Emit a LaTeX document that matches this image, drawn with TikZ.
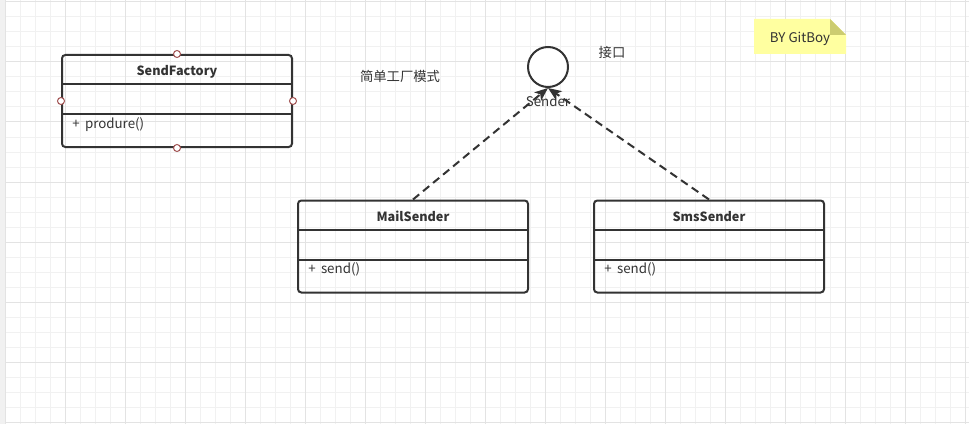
\documentclass[tikz,border=0pt]{standalone}
\usepackage{fontspec}
\setmainfont{Noto Sans CJK SC}
\usepackage{tikz}
\usetikzlibrary{calc}
\usetikzlibrary{arrows.meta,shapes}
\usetikzlibrary{positioning}
\definecolor{ink}{HTML}{333333}
\definecolor{gridminor}{HTML}{F1F1F1}
\definecolor{gridmajor}{HTML}{E3E3E3}
\definecolor{portred}{HTML}{A05050}
\definecolor{notefill}{HTML}{FFFFA0}
\definecolor{notefold}{HTML}{CCCC70}
\tikzstyle{minorline}=[draw=gridminor,line width=0.75pt]
\tikzstyle{majorline}=[draw=gridmajor,line width=0.75pt]
\tikzstyle{umlbox}=[draw=ink,line width=1.5pt,rounded corners=2.5pt,minimum width=172.5pt,
                minimum height=69pt,inner sep=0]
\tikzstyle{umlrule}=[draw=ink,line width=1.5pt]
\tikzstyle{umltitle}=[font=\fontsize{9.5}{11}\selectfont\bfseries,text=ink,inner sep=0]
\tikzstyle{umltext}=[font=\fontsize{10}{12}\selectfont,text=ink,inner sep=0]
\tikzstyle{port}=[circle,draw=portred,fill=white,line width=0.75pt,minimum size=5.25pt,inner sep=0]
\tikzstyle{iface}=[circle,draw=ink,fill=white,line width=1.5pt,minimum size=30pt,inner sep=0]
\tikzstyle{realize}=[draw=ink,line width=1.5pt,dash pattern=on 6pt off 3.75pt,
                -{Stealth[length=10pt,width=8pt,inset=2.5pt]}]

\begin{document}
\begin{tikzpicture}[x=0.75pt,y=-0.75pt]
\useasboundingbox (0,0) rectangle (969,424);
\fill[white] (0,0) rectangle (969,424);
\fill[gridminor] (0,0) rectangle (5,424);
\foreach \x in {20.7,35.7,...,969} \draw[minorline] (\x,0) -- (\x,424);
\foreach \y in {17,32,...,424} \draw[minorline] (5,\y) -- (969,\y);
\foreach \x in {5.7,65.7,...,969} \draw[majorline] (\x,0) -- (\x,424);
\foreach \y in {2,62,...,424} \draw[majorline] (5,\y) -- (969,\y);

% classes
\foreach \n/\x/\y/\t/\m in {factory/177/101/SendFactory/produre(),
                            mail/413/246.5/MailSender/send(),
                            sms/709/246.5/SmsSender/send()}{
  \node[umlbox] (\n) at (\x,\y) {};
  \node[umltitle,anchor=base] (\n title) at ($(\n.north)+(0,21.5)$) {\t};
  \draw[umlrule] ($(\n.north west)+(0,30)$) -- ($(\n.north east)+(0,30)$);
  \draw[umlrule] ($(\n.north west)+(0,60)$) -- ($(\n.north east)+(0,60)$);
  \node[umltext,anchor=base west] (\n method) at ($(\n.north west)+(11,74)$) {+\hspace{4pt}\m};
}
\foreach \a in {north,south,west,east}
  \node[port] (factory \a) at (factory.\a) {};

% interface
\node[iface] (sender) at (548,67) {};
\draw[realize] (mail.north) -- (sender.south);
\draw[realize] (sms.north) -- (sender.south);
\node[umltext,anchor=base] (sendername) at ($(sender.south)+(0,19)$) {Sender};
\node[umltext] (ifacenote) at (612,52) {接口};
\node[umltext] (heading) at (400,76) {简单工厂模式};

% note
\fill[notefill] (754,19) -- (830,19) -- (846,35) -- (846,54) -- (754,54) -- cycle;
\fill[notefold] (830,19) -- (846,35) -- (830,35) -- cycle;
\node[umltext] (author) at (800,39) {BY GitBoy};
\end{tikzpicture}
\end{document}
